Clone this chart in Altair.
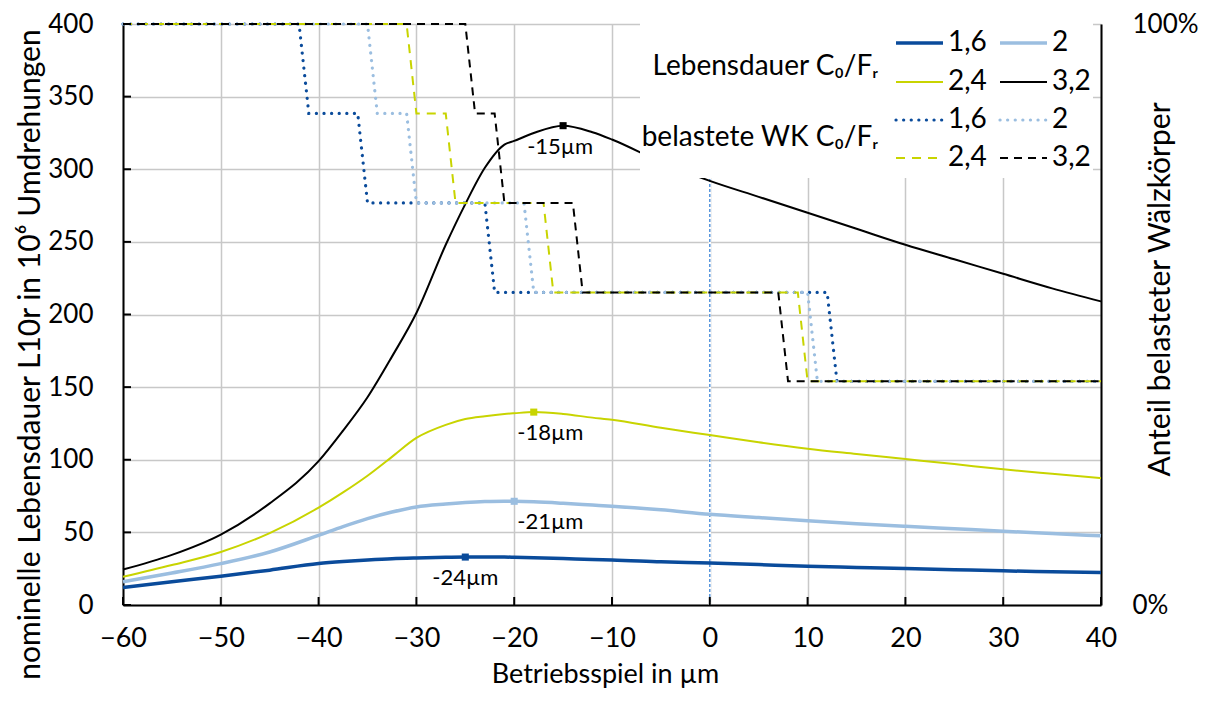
import altair as alt
import pandas as pd

# ---------------- data ----------------
series_names = ["1,6", "2", "2,4", "3,2"]

life_x = [-60, -55, -50, -45, -40, -37.5, -35, -32.5, -30, -27, -25, -23, -21, -20, -18, -15,
          -12, -10, -5, 0, 5, 10, 15, 20, 25, 30, 35, 40]
life_16 = [12, 16, 19.8, 24, 28.5, 29.9, 31, 31.9, 32.4, 32.8, 33, 33, 33, 32.9, 32.6, 32,
           31.3, 31, 29.8, 28.9, 27.8, 26.7, 25.9, 25.1, 24.3, 23.5, 22.9, 22.3]
life_20 = [16, 22, 28.5, 36.5, 48, 54, 59.5, 64, 67.5, 69.5, 70.5, 71.2, 71.5, 71.4, 71, 70,
           68.8, 68, 65.5, 62.5, 60.2, 58, 56, 54.2, 52.5, 50.8, 49.2, 47.6]
life_24 = [19.4, 27.5, 36.5, 49.5, 67, 77.5, 89, 102, 115, 124, 128, 130, 131.5, 132, 132.8, 131.5,
           129, 127.5, 122, 117, 112, 107.6, 104, 100.5, 97, 93.4, 90.3, 87.3]
life_32 = [24.4, 34.5, 48.5, 70, 99, 120, 143, 171, 201, 248, 276, 301, 317, 319.5, 325, 330,
           325.5, 320.5, 305, 292, 281, 270, 259, 248, 238, 228, 218, 209]

peak_x = [-25, -20, -18, -15]
peak_y = [33, 71.4, 132.8, 330]
peak_text = ["-24µm", "-21µm", "-18µm", "-15µm"]
peak_text_x = [-25, -16.3, -16.3, -15.3]

# share of loaded rolling elements in %
step_levels = [100, 100, 84.6, 84.6, 69.2, 69.2, 53.8, 53.8, 38.5, 38.5]
steps_16_x = [-60, -42, -41, -36, -35, -23, -22, 12, 13, 40]
steps_20_x = [-60, -35, -34, -31, -30, -19, -18, 10, 11, 40]
steps_24_x = [-60, -31, -30, -27, -26, -17, -16, 9, 10, 40]
steps_32_x = [-60, -25, -24, -22, -21, -14, -13, 7, 8, 40]

x_ticks = [-60, -50, -40, -30, -20, -10, 0, 10, 20, 30, 40]
y_ticks = [0, 50, 100, 150, 200, 250, 300, 350, 400]
y2_ticks = [0, 100]

# ---------------- styles ----------------
FONT = "Lato"
W, H = 978, 581
colors = ["#0A4B9B", "#9BBEE0", "#C8D400", "#000000"]
life_width = [3.5, 3.5, 2.0, 2.0]
step_dash = [[0.1, 7.5], [0.1, 7.5], [9, 7], [8, 6]]
step_width = [3.2, 3.2, 2.0, 2.0]
step_cap = ["round", "round", "butt", "butt"]

xs = alt.Scale(domain=[-60, 40], nice=False, zero=False)
ys = alt.Scale(domain=[0, 400], nice=False)
ys2 = alt.Scale(domain=[0, 100], nice=False)

x_axis = alt.Axis(values=x_ticks, grid=True, gridColor="#c8c8c8", gridWidth=1.5,
                  domainColor="black", domainWidth=2, ticks=False, tickSize=0,
                  labelFont=FONT, labelFontSize=27, labelPadding=20, labelColor="black",
                  labelFlush=False,
                  title="Betriebsspiel in µm", titleFont=FONT, titleFontSize=27,
                  titleFontWeight="normal", titleColor="black",
                  titleX=482, titleY=69, titleAlign="center", titleBaseline="middle")
y_axis = alt.Axis(values=y_ticks, grid=True, gridColor="#c8c8c8", gridWidth=1.5,
                  domainColor="black", domainWidth=2, ticks=False, tickSize=0,
                  labelFont=FONT, labelFontSize=26, labelPadding=30, labelColor="black",
                  orient="left",
                  title="nominelle Lebensdauer L10r in 10⁶ Umdrehungen", titleFont=FONT,
                  titleFontSize=30, titleFontWeight="normal", titleColor="black",
                  titleAngle=270, titleX=-93, titleY=330, titleAlign="center",
                  titleBaseline="middle")
y2_axis = alt.Axis(values=y2_ticks, grid=False, domainColor="black", domainWidth=2,
                   ticks=False, tickSize=0, orient="right",
                   labelFont=FONT, labelFontSize=26, labelPadding=31, labelColor="black",
                   labelExpr="datum.value + '%'",
                   title="Anteil belasteter Wälzkörper", titleFont=FONT, titleFontSize=30,
                   titleFontWeight="normal", titleColor="black",
                   titleAngle=270, titleX=59, titleY=265, titleAlign="center",
                   titleBaseline="middle")

X = alt.X("x:Q", scale=xs, axis=x_axis)
Y = alt.Y("y:Q", scale=ys, axis=y_axis)
Y2 = alt.Y("y:Q", scale=ys2, axis=y2_axis)

# ---------------- left group ----------------
left_layers = []
zero_df = pd.DataFrame({"x": [0]})
left_layers.append(alt.Chart(zero_df).mark_rule(color="white", strokeWidth=2.5).encode(x=X))
left_layers.append(alt.Chart(zero_df).mark_rule(color="#3F86D6", strokeWidth=1.3,
                                                strokeDash=[3, 2]).encode(x=X))

life_vals = [life_16, life_20, life_24, life_32]
for i, name in enumerate(series_names):
    df = pd.DataFrame({"x": life_x, "y": life_vals[i]})
    left_layers.append(
        alt.Chart(df).mark_line(color=colors[i], strokeWidth=life_width[i],
                                interpolate="monotone").encode(x=X, y=Y)
    )

peak_df = pd.DataFrame({"x": peak_x, "y": peak_y, "s": series_names})
left_layers.append(
    alt.Chart(peak_df).mark_square(size=50, opacity=1).encode(
        x=X, y=Y,
        color=alt.Color("s:N", scale=alt.Scale(domain=series_names, range=colors), legend=None))
)
label_df = pd.DataFrame({"x": peak_text_x, "y": peak_y, "t": peak_text})
left_layers.append(
    alt.Chart(label_df).mark_text(font=FONT, fontSize=22, color="black", align="center",
                                  baseline="middle", dy=21).encode(x=X, y=Y, text="t:N")
)

yt_df = pd.DataFrame({"y": y_ticks})
left_layers.append(
    alt.Chart(yt_df).mark_rule(color="black", strokeWidth=2).encode(
        y=Y, x=alt.value(0), x2=alt.value(8))
)
xt_df = pd.DataFrame({"x": x_ticks})
left_layers.append(
    alt.Chart(xt_df).mark_rule(color="black", strokeWidth=2).encode(
        x=X, y=alt.value(H), y2=alt.value(H - 8))
)
left = alt.layer(*left_layers)

# ---------------- right group (loaded rolling elements) ----------------
steps_x = [steps_16_x, steps_20_x, steps_24_x, steps_32_x]
right_layers = []
for i, name in enumerate(series_names):
    df = pd.DataFrame({"x": steps_x[i], "y": step_levels})
    right_layers.append(
        alt.Chart(df).mark_line(color=colors[i], strokeWidth=step_width[i],
                                strokeDash=step_dash[i], strokeCap=step_cap[i]).encode(x=X, y=Y2)
    )
right = alt.layer(*right_layers)

# ---------------- custom legend ----------------
one = pd.DataFrame({"a": [0]})
leg = []
leg.append(alt.Chart(one).mark_rect(fill="white").encode(
    x=alt.value(517), x2=alt.value(970), y=alt.value(-1), y2=alt.value(154)))
leg.append(alt.Chart(one).mark_text(text="Lebensdauer C₀/Fᵣ", font=FONT, fontSize=28,
                                    color="black", align="right", baseline="alphabetic").encode(
    x=alt.value(755), y=alt.value(51)))
leg.append(alt.Chart(one).mark_text(text="belastete WK C₀/Fᵣ", font=FONT, fontSize=28,
                                    color="black", align="right", baseline="alphabetic").encode(
    x=alt.value(755), y=alt.value(122)))

col_x = [773, 877]
solid_row_y = [19, 19, 58, 58]
step_row_y = [96, 96, 134, 134]
for i, name in enumerate(series_names):
    lx = col_x[i % 2]
    ly = solid_row_y[i]
    leg.append(alt.Chart(one).mark_rule(color=colors[i], strokeWidth=life_width[i]).encode(
        x=alt.value(lx), x2=alt.value(lx + 47), y=alt.value(ly)))
    leg.append(alt.Chart(one).mark_text(text=name, font=FONT, fontSize=28, color="black",
                                        align="left", baseline="middle").encode(
        x=alt.value(lx + 52), y=alt.value(ly)))
    sy = step_row_y[i]
    leg.append(alt.Chart(one).mark_rule(color=colors[i], strokeWidth=step_width[i],
                                        strokeDash=step_dash[i], strokeCap=step_cap[i]).encode(
        x=alt.value(lx), x2=alt.value(lx + 47), y=alt.value(sy)))
    leg.append(alt.Chart(one).mark_text(text=name, font=FONT, fontSize=28, color="black",
                                        align="left", baseline="middle").encode(
        x=alt.value(lx + 52), y=alt.value(sy)))
legend = alt.layer(*leg)

chart = (
    alt.layer(left, right, legend)
    .resolve_scale(y="independent")
    .properties(width=W, height=H,
                autosize=alt.AutoSizeParams(type="none"),
                padding={"left": 115, "top": 16, "right": 101, "bottom": 86})
    .configure_view(strokeWidth=0)
)

chart.save("out.html", embed_options={"renderer": "svg", "actions": False})
